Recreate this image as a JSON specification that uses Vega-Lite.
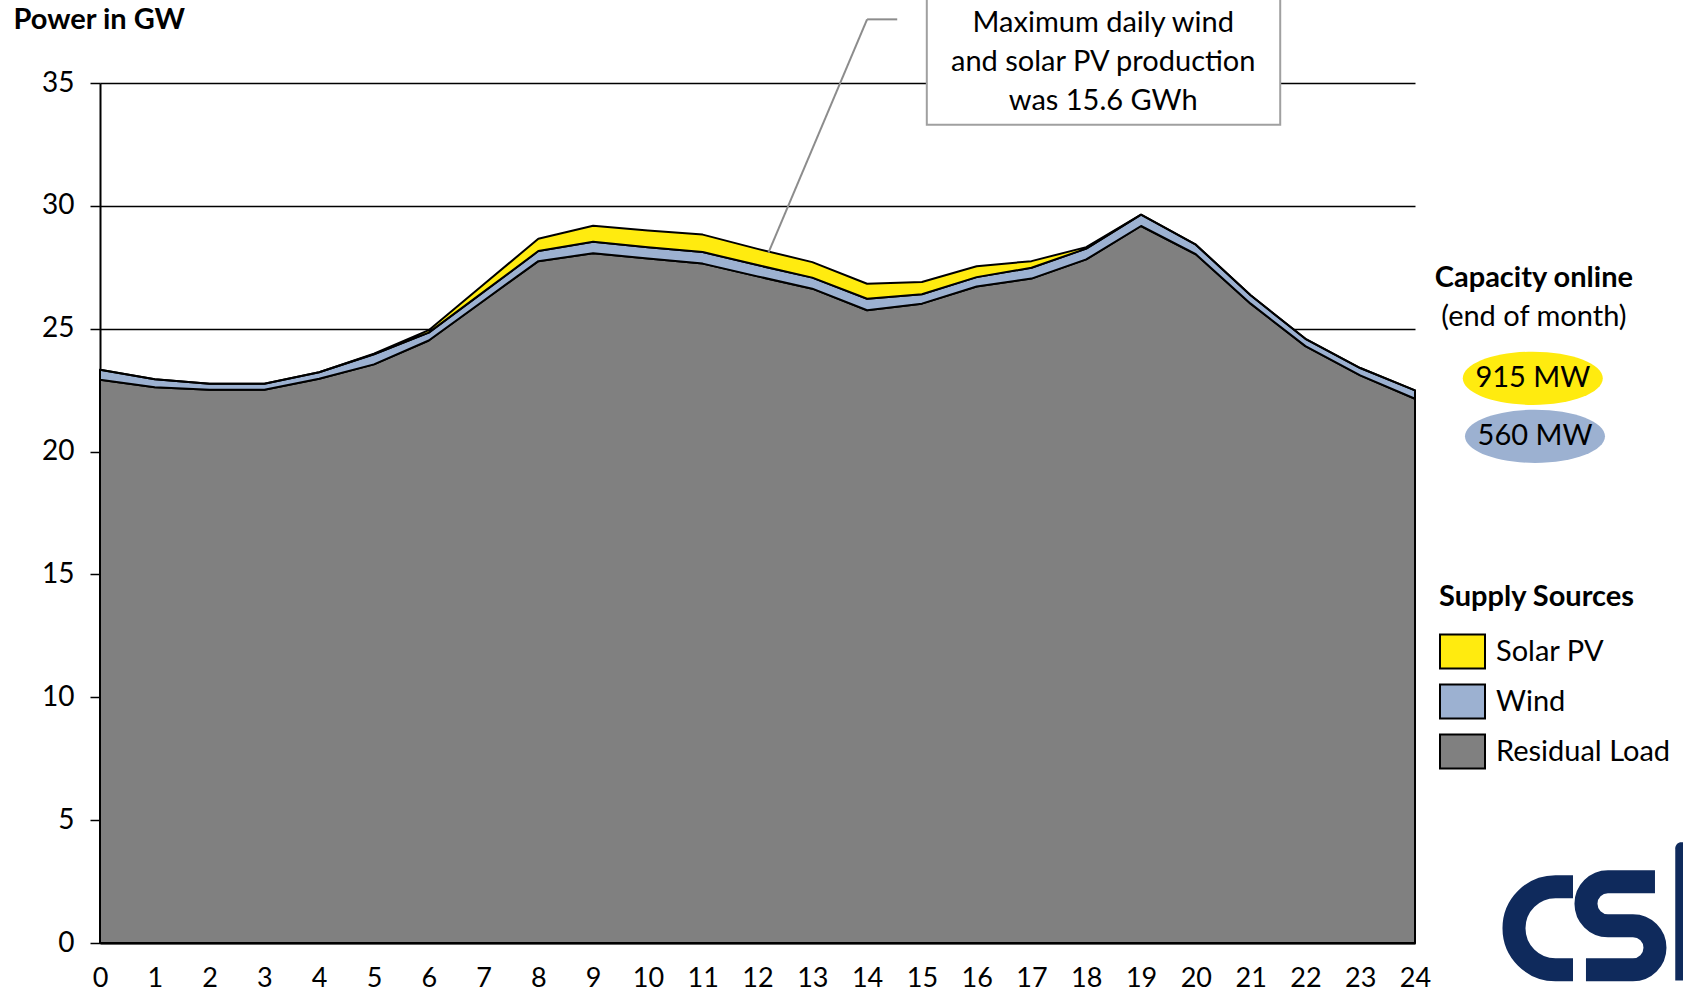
{
  "$schema": "https://vega.github.io/schema/vega-lite/v6.json",
  "width": 1315,
  "height": 860,
  "autosize": {"type": "none"},
  "padding": {"left": 100, "top": 83, "right": 268, "bottom": 50},
  "background": "white",
  "config": {
    "font": "Lato",
    "view": {"stroke": null},
    "text": {"font": "Lato", "fontSize": 29, "color": "#000"}
  },
  "data": {
    "values": [
      {"hour": 0, "residual": 22.92, "wind_top": 23.33, "solar_top": 23.33},
      {"hour": 1, "residual": 22.62, "wind_top": 22.94, "solar_top": 22.94},
      {"hour": 2, "residual": 22.52, "wind_top": 22.76, "solar_top": 22.76},
      {"hour": 3, "residual": 22.52, "wind_top": 22.76, "solar_top": 22.76},
      {"hour": 4, "residual": 22.96, "wind_top": 23.23, "solar_top": 23.23},
      {"hour": 5, "residual": 23.55, "wind_top": 23.96, "solar_top": 23.98},
      {"hour": 6, "residual": 24.52, "wind_top": 24.84, "solar_top": 24.94},
      {"hour": 7, "residual": 26.14, "wind_top": 26.5, "solar_top": 26.8},
      {"hour": 8, "residual": 27.75, "wind_top": 28.16, "solar_top": 28.66},
      {"hour": 9, "residual": 28.07, "wind_top": 28.54, "solar_top": 29.19},
      {"hour": 10, "residual": 27.86, "wind_top": 28.32, "solar_top": 29.0},
      {"hour": 11, "residual": 27.65, "wind_top": 28.12, "solar_top": 28.83},
      {"hour": 12, "residual": 27.13, "wind_top": 27.59, "solar_top": 28.25},
      {"hour": 13, "residual": 26.63, "wind_top": 27.08, "solar_top": 27.71},
      {"hour": 14, "residual": 25.75, "wind_top": 26.22, "solar_top": 26.83},
      {"hour": 15, "residual": 26.02, "wind_top": 26.4, "solar_top": 26.9},
      {"hour": 16, "residual": 26.72, "wind_top": 27.1, "solar_top": 27.54},
      {"hour": 17, "residual": 27.04, "wind_top": 27.48, "solar_top": 27.75},
      {"hour": 18, "residual": 27.82, "wind_top": 28.26, "solar_top": 28.32},
      {"hour": 19, "residual": 29.18, "wind_top": 29.64, "solar_top": 29.64},
      {"hour": 20, "residual": 28.03, "wind_top": 28.42, "solar_top": 28.42},
      {"hour": 21, "residual": 26.02, "wind_top": 26.36, "solar_top": 26.36},
      {"hour": 22, "residual": 24.29, "wind_top": 24.59, "solar_top": 24.59},
      {"hour": 23, "residual": 23.1, "wind_top": 23.4, "solar_top": 23.4},
      {"hour": 24, "residual": 22.15, "wind_top": 22.49, "solar_top": 22.49}
    ]
  },
  "layer": [
    {
      "mark": {"type": "area", "stroke": "#000", "strokeWidth": 2, "strokeJoin": "round"},
      "encoding": {
        "x": {
          "field": "hour", "type": "quantitative",
          "scale": {"domain": [0, 24], "nice": false, "zero": false},
          "axis": {
            "title": null, "values": [0,1,2,3,4,5,6,7,8,9,10,11,12,13,14,15,16,17,18,19,20,21,22,23,24],
            "grid": false, "ticks": false, "tickSize": 0, "labelPadding": 22, "labelFlush": false, "labelOverlap": false,
            "labelFont": "Lato", "labelFontSize": 27, "labelColor": "#000", "domainColor": "#000", "domainWidth": 2
          }
        },
        "y": {
          "field": "residual", "type": "quantitative",
          "scale": {"domain": [0, 35], "nice": false},
          "axis": {
            "title": "Power in GW", "values": [0,5,10,15,20,25,30,35],
            "grid": true, "gridColor": "#000", "gridWidth": 1.5, "gridOpacity": 1,
            "tickSize": 10, "tickColor": "#000", "tickWidth": 1.5,
            "domainColor": "#000", "domainWidth": 2,
            "labelPadding": 16, "labelFont": "Lato", "labelFontSize": 28, "labelColor": "#000",
            "titleAngle": 0, "titleAlign": "left", "titleBaseline": "middle", "titleX": -87, "titleY": -64,
            "titleFont": "Lato", "titleFontSize": 29, "titleFontWeight": "bold", "titleColor": "#000", "titleLimit": 400
          }
        },
        "y2": {"datum": 0},
        "color": {
          "datum": "Residual Load", "type": "nominal",
          "scale": {"domain": ["Solar PV", "Wind", "Residual Load"], "range": ["#ffeb0f", "#9cb1d1", "#808080"]},
          "legend": {
            "orient": "none", "legendX": 1339, "legendY": 500, "padding": 0,
            "title": "Supply Sources", "titleFont": "Lato", "titleFontSize": 29, "titleFontWeight": "bold", "titleColor": "#000", "titlePadding": 16, "titleLimit": 400,
            "labelFont": "Lato", "labelFontSize": 29, "labelColor": "#000", "labelOffset": 10, "labelLimit": 400,
            "symbolType": "M-1,-0.756H1V0.756H-1Z", "symbolSize": 2025, "symbolStrokeColor": "#000", "symbolStrokeWidth": 2, "symbolOpacity": 1,
            "rowPadding": 5
          }
        }
      }
    },
    {
      "mark": {"type": "area", "stroke": "#000", "strokeWidth": 2, "strokeJoin": "round"},
      "encoding": {
        "x": {"field": "hour", "type": "quantitative", "scale": {"domain": [0, 24], "nice": false, "zero": false}},
        "y": {"field": "wind_top", "type": "quantitative", "scale": {"domain": [0, 35], "nice": false}, "title": "Power in GW"},
        "y2": {"field": "residual"},
        "color": {"datum": "Wind", "type": "nominal"}
      }
    },
    {
      "mark": {"type": "area", "stroke": "#000", "strokeWidth": 2, "strokeJoin": "round"},
      "encoding": {
        "x": {"field": "hour", "type": "quantitative", "scale": {"domain": [0, 24], "nice": false, "zero": false}},
        "y": {"field": "solar_top", "type": "quantitative", "scale": {"domain": [0, 35], "nice": false}, "title": "Power in GW"},
        "y2": {"field": "wind_top"},
        "color": {"datum": "Solar PV", "type": "nominal"}
      }
    },
    {
      "data": {"values": [{}]},
      "mark": {"type": "rule", "color": "#8c8c8c", "strokeWidth": 2},
      "encoding": {
        "x": {"datum": 12.2, "type": "quantitative"},
        "y": {"datum": 28.1, "type": "quantitative"},
        "x2": {"datum": 14.0},
        "y2": {"datum": 37.59}
      }
    },
    {
      "data": {"values": [{}]},
      "mark": {"type": "rule", "color": "#8c8c8c", "strokeWidth": 2},
      "encoding": {
        "x": {"datum": 14.0, "type": "quantitative"},
        "y": {"datum": 37.59, "type": "quantitative"},
        "x2": {"datum": 14.55},
        "y2": {"datum": 37.59}
      }
    },
    {
      "data": {"values": [{}]},
      "mark": {"type": "rect", "fill": "#cfcfcf", "xOffset": 2, "yOffset": 3},
      "encoding": {
        "x": {"datum": 15.09, "type": "quantitative"},
        "x2": {"datum": 21.54},
        "y": {"datum": 38.5, "type": "quantitative"},
        "y2": {"datum": 33.3}
      }
    },
    {
      "data": {"values": [{}]},
      "mark": {"type": "rect", "fill": "white", "stroke": "#a0a0a0", "strokeWidth": 2},
      "encoding": {
        "x": {"datum": 15.09, "type": "quantitative"},
        "x2": {"datum": 21.54},
        "y": {"datum": 38.5, "type": "quantitative"},
        "y2": {"datum": 33.3}
      }
    },
    {
      "data": {"values": [{}]},
      "mark": {"type": "text", "align": "center", "baseline": "middle", "lineHeight": 39, "fontSize": 29,
               "text": ["Maximum daily wind", "and solar PV production", "was 15.6 GWh"]},
      "encoding": {
        "x": {"datum": 18.31, "type": "quantitative"},
        "y": {"datum": 37.45, "type": "quantitative"}
      }
    },
    {
      "data": {"values": [{}]},
      "mark": {"type": "text", "align": "center", "baseline": "middle", "fontSize": 29, "fontWeight": "bold", "text": "Capacity online"},
      "encoding": {
        "x": {"datum": 26.17, "type": "quantitative"},
        "y": {"datum": 27.05, "type": "quantitative"}
      }
    },
    {
      "data": {"values": [{}]},
      "mark": {"type": "text", "align": "center", "baseline": "middle", "fontSize": 29, "text": "(end of month)"},
      "encoding": {
        "x": {"datum": 26.17, "type": "quantitative"},
        "y": {"datum": 25.48, "type": "quantitative"}
      }
    },
    {
      "data": {"values": [{}]},
      "mark": {"type": "point", "filled": true, "opacity": 1, "fill": "#ffeb0f", "strokeWidth": 0,
               "shape": "M-1,0A1,0.38 0 1,0 1,0A1,0.38 0 1,0 -1,0Z", "size": 19600},
      "encoding": {
        "x": {"datum": 26.15, "type": "quantitative"},
        "y": {"datum": 22.98, "type": "quantitative"}
      }
    },
    {
      "data": {"values": [{}]},
      "mark": {"type": "point", "filled": true, "opacity": 1, "fill": "#9cb1d1", "strokeWidth": 0,
               "shape": "M-1,0A1,0.38 0 1,0 1,0A1,0.38 0 1,0 -1,0Z", "size": 19600},
      "encoding": {
        "x": {"datum": 26.19, "type": "quantitative"},
        "y": {"datum": 20.62, "type": "quantitative"}
      }
    },
    {
      "data": {"values": [{}]},
      "mark": {"type": "text", "align": "center", "baseline": "middle", "fontSize": 29, "text": "915 MW"},
      "encoding": {
        "x": {"datum": 26.15, "type": "quantitative"},
        "y": {"datum": 22.98, "type": "quantitative"}
      }
    },
    {
      "data": {"values": [{}]},
      "mark": {"type": "text", "align": "center", "baseline": "middle", "fontSize": 29, "text": "560 MW"},
      "encoding": {
        "x": {"datum": 26.19, "type": "quantitative"},
        "y": {"datum": 20.62, "type": "quantitative"}
      }
    },
    {
      "data": {"values": [{}]},
      "mark": {"type": "point", "filled": false, "opacity": 1, "fill": null, "stroke": "#0f2a5c", "strokeWidth": 23, "strokeCap": "butt",
               "shape": "M30,-41.5H12.5A41.5,41.5 0 0,0 12.5,41.5H30", "size": 4},
      "encoding": {
        "x": {"datum": 26.336, "type": "quantitative"},
        "y": {"datum": 0.603, "type": "quantitative"}
      }
    },
    {
      "data": {"values": [{}]},
      "mark": {"type": "point", "filled": false, "opacity": 1, "fill": null, "stroke": "#0f2a5c", "strokeWidth": 23, "strokeCap": "butt",
               "shape": "M34.5,-44H-12.5A22,22 0 0,0 -12.5,0H12.5A22,22 0 0,1 12.5,44H-34.5", "size": 4},
      "encoding": {
        "x": {"datum": 27.75, "type": "quantitative"},
        "y": {"datum": 0.704, "type": "quantitative"}
      }
    },
    {
      "data": {"values": [{}]},
      "mark": {"type": "rect", "fill": "#0f2a5c", "cornerRadiusTopLeft": 6},
      "encoding": {
        "x": {"datum": 28.75, "type": "quantitative"},
        "x2": {"datum": 29.2},
        "y": {"datum": 4.1, "type": "quantitative"},
        "y2": {"datum": -1.53}
      }
    }
  ]
}
